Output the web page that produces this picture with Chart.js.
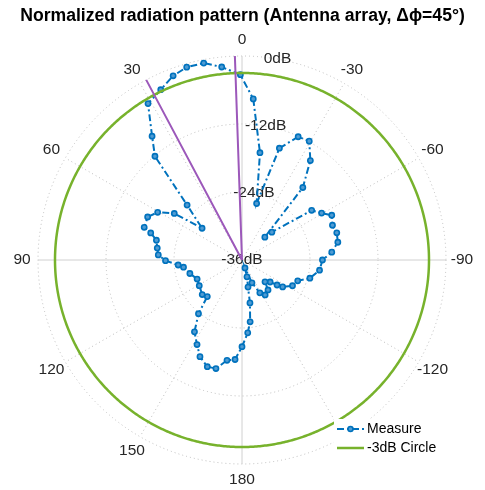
<!DOCTYPE html>
<html>
<head>
<meta charset="utf-8">
<script src="https://cdn.jsdelivr.net/npm/chart.js@4.4.1/dist/chart.umd.min.js"></script>
<style>
html,body{margin:0;padding:0;background:#fff;}
canvas{display:block;}
</style>
</head>
<body>
<canvas id="c" width="485" height="490"></canvas>
<script>
// ---- data (angles in degrees, counter-clockwise from top; values in dB) ----
const titleText = 'Normalized radiation pattern (Antenna array, \u0394\u03d5=45\u00b0)';
const seriesNames = ['Measure', '-3dB Circle'];
const measureAngles = [0.3, 5.9, 10.9, 15.8, 20.5, 25.6, 30.8, 35.8, 40.2, 45, 51.3, 55.3, 60.5, 65.6, 71.4, 73.6, 76.9, 82, 86.6, 90.7, 94.5, 96.8, 104.5, 112.9, 121.2, 131, 136.6, 141, 146.3, 152.1, 156.6, 161.9, 166.6, 171.6, 176, 180, 184.7, 187.4, 190.5, 192.5, 196.4, 200.6, 203.5, 208.6, 213.3, 220.9, 226.3, 231.8, 234.5, 236.6, 243, 249.4, 255.2, 262.7, 270, 275.1, 280.6, 285.9, 291, 296.6, 300.4, 305.5, 313, 315, 320.1, 325.4, 330.3, 335.7, 341.3, 345.3, 350.5, 356.1];
const measureDb = [-3.3, -1.75, -0.6, -0.6, -1.3, -2.7, -3.8, -9.0, -12.1, -22.3, -27.0, -21.5, -18.9, -17.7, -17.8, -19.2, -20.5, -20.9, -21.2, -22.5, -24.7, -25.6, -26.5, -27.4, -27.2, -26.7, -27.1, -23.8, -20.8, -19.1, -17.4, -16.2, -16.3, -18.1, -18.4, -20.7, -23.1, -25.0, -28.3, -31.1, -32.9, -34.5, -31.6, -29.4, -28.6, -29.0, -30.4, -29.7, -28.4, -27.4, -26.0, -25.5, -23.6, -22.2, -21.8, -20.1, -18.8, -18.6, -18.9, -18.3, -19.7, -20.9, -28.8, -30.3, -19.3, -14.7, -11.9, -12.1, -15.2, -25.7, -16.8, -7.5];
const circleDb = -3;
const beamAngles = [2, 28];
const rMin = -36, rMax = 0, rStep = 12;
const angleTicks = [0, 30, 60, 90, 120, 150, 180, 210, 240, 270, 300, 330];
const angleTickLabels = ['0', '30', '60', '90', '120', '150', '180', '-150', '-120', '-90', '-60', '-30'];
const radialTicks = [-36, -24, -12, 0];
const radialTickLabels = ['-36dB', '-24dB', '-12dB', '0dB'];
const radialLabelAngle = -10;

// ---- mapping polar angle -> radar index ----
const STEP = 0.5;
const N = Math.round(360 / STEP);
function idx(theta) {
  const cw = (((360 - theta) % 360) + 360) % 360;
  return Math.round(cw / STEP) % N;
}
const labels = Array.from({length: N}, (_, i) => i * STEP);

const measureData = new Array(N).fill(null);
measureAngles.forEach((a, k) => { measureData[idx(a)] = measureDb[k]; });
const circleData = new Array(N).fill(circleDb);
const beamSets = beamAngles.map(a => {
  const d = new Array(N).fill(null);
  d[idx(a)] = rMax;
  d[idx(a + 180)] = rMin;
  return d;
});

const BLUE = '#0072BD', GREEN = '#77B22C', PURPLE = '#9C58BA';
const FONT = '"Liberation Sans", Arial, Helvetica, sans-serif';
const MEASURE_DASH = [7, 3, 2, 3];

const polarText = {
  id: 'polarText',
  beforeDatasetsDraw(chart) {
    const s = chart.scales.r, ctx = chart.ctx;
    ctx.save();
    ctx.font = '15.5px ' + FONT;
    ctx.fillStyle = '#262626';
    ctx.textAlign = 'center';
    ctx.textBaseline = 'middle';
    angleTicks.forEach((a, k) => {
      const p = s.getPointPosition(idx(a), s.drawingArea + 16);
      ctx.fillText(angleTickLabels[k], p.x, p.y);
    });
    radialTicks.forEach((v, k) => {
      const p = s.getPointPosition(idx(radialLabelAngle), s.getDistanceFromCenterForValue(v));
      ctx.fillText(radialTickLabels[k], p.x, p.y);
    });
    ctx.restore();
  },
  afterDraw(chart) {
    const ctx = chart.ctx;
    const s = chart.scales.r;
    const bx = s.xCenter + 92, by = s.yCenter + 159, bw = 107, bh = 36;
    ctx.save();
    ctx.fillStyle = '#ffffff';
    ctx.fillRect(bx, by, bw, bh);
    const x0 = bx + 3, x1 = bx + 30, xt = bx + 33;
    const y0 = by + 10, y1 = by + 29;
    // Measure sample
    ctx.strokeStyle = BLUE; ctx.lineWidth = 2;
    ctx.setLineDash(MEASURE_DASH);
    ctx.beginPath(); ctx.moveTo(x0, y0); ctx.lineTo(x1, y0); ctx.stroke();
    ctx.setLineDash([]);
    ctx.beginPath(); ctx.arc((x0 + x1) / 2, y0, 2.5, 0, Math.PI * 2);
    ctx.fillStyle = '#4f9bd3'; ctx.fill(); ctx.lineWidth = 1.6; ctx.stroke();
    // circle sample
    ctx.strokeStyle = GREEN; ctx.lineWidth = 2.5;
    ctx.beginPath(); ctx.moveTo(x0, y1); ctx.lineTo(x1, y1); ctx.stroke();
    ctx.fillStyle = '#000000';
    ctx.font = '14px ' + FONT;
    ctx.textAlign = 'left'; ctx.textBaseline = 'middle';
    ctx.fillText(seriesNames[0], xt, y0);
    ctx.fillText(seriesNames[1], xt, y1);
    ctx.restore();
  }
};

new Chart(document.getElementById('c'), {
  type: 'radar',
  data: {
    labels: labels,
    datasets: [
      { label: 'beam1', data: beamSets[0], borderColor: PURPLE, borderWidth: 2, pointRadius: 0, fill: false, spanGaps: true, tension: 0, order: 1 },
      { label: 'beam2', data: beamSets[1], borderColor: PURPLE, borderWidth: 2, pointRadius: 0, fill: false, spanGaps: true, tension: 0, order: 1 },
      { label: seriesNames[1], data: circleData, borderColor: GREEN, borderWidth: 2.5, pointRadius: 0, fill: false, spanGaps: true, tension: 0, order: 2 },
      { label: seriesNames[0], data: measureData, borderColor: BLUE, borderWidth: 2, borderDash: MEASURE_DASH,
        pointRadius: 2.6, pointBorderWidth: 1.6, pointBorderColor: BLUE, pointBackgroundColor: '#4f9bd3',
        fill: false, spanGaps: true, tension: 0, order: 3 }
    ]
  },
  options: {
    responsive: false,
    animation: false,
    events: [],
    layout: { padding: { left: 0, right: 0, top: 0, bottom: 25 } },
    plugins: {
      legend: { display: false },
      tooltip: { enabled: false },
      title: {
        display: true, text: titleText, color: '#000000',
        font: { family: FONT, size: 17.6, weight: 'bold', lineHeight: 1.2 },
        padding: { top: 6, bottom: 27.9 }
      }
    },
    scales: {
      r: {
        min: rMin, max: rMax,
        startAngle: 0,
        ticks: { display: false, stepSize: rStep },
        pointLabels: { display: false },
        grid: { circular: true, color: '#bdbdbd', lineWidth: 1, borderDash: [1, 3] },
        border: { dash: [1, 3] },
        angleLines: {
          display: true,
          color: (c) => { const d = c.index * STEP; if (d % 30 !== 0) return 'rgba(0,0,0,0)'; return d % 90 === 0 ? '#d0d0d0' : '#bdbdbd'; },
          lineWidth: (c) => ((c.index * STEP) % 30 === 0 ? 1 : 0),
          borderDash: (c) => ((c.index * STEP) % 90 === 0 ? [] : [1, 3])
        }
      }
    }
  },
  plugins: [polarText]
});
</script>
</body>
</html>
